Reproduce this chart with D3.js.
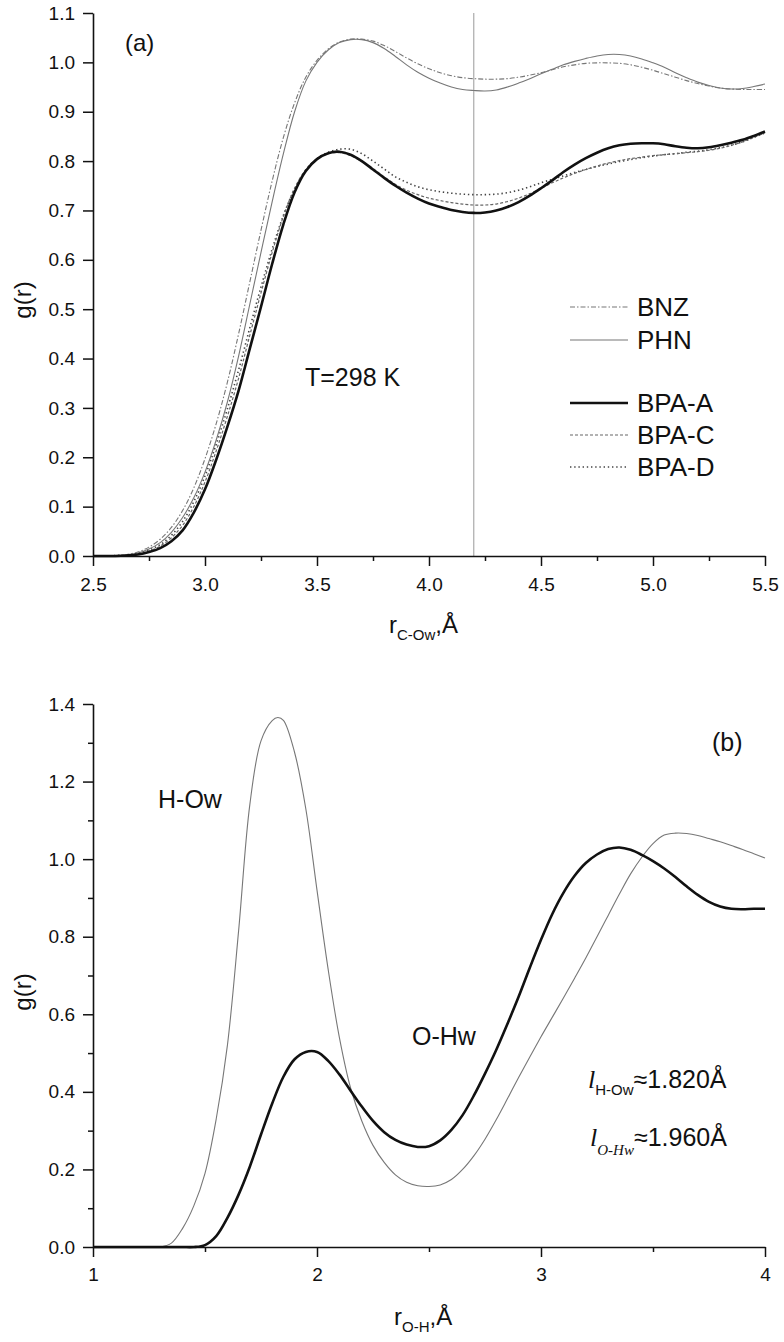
<!DOCTYPE html>
<html>
<head>
<meta charset="utf-8">
<script src="https://cdn.jsdelivr.net/npm/d3@7"></script>
<style>
  html, body { margin: 0; padding: 0; background: #fff; }
  svg { display: block; }
  text { font-family: "Liberation Sans", Arial, sans-serif; fill: #111; }
</style>
</head>
<body>
<svg id="chart" width="784" height="1342"></svg>
<script>
// ---------------- DATA: panel (a) ----------------
const rTop = [2.50,2.55,2.60,2.65,2.70,2.75,2.80,2.85,2.90,2.95,3.00,3.05,3.10,3.15,3.20,3.25,3.30,3.35,3.40,3.45,3.50,3.55,3.60,3.65,3.70,3.75,3.80,3.85,3.90,3.95,4.00,4.05,4.10,4.15,4.20,4.25,4.30,4.35,4.40,4.45,4.50,4.55,4.60,4.65,4.70,4.75,4.80,4.85,4.90,4.95,5.00,5.05,5.10,5.15,5.20,5.25,5.30,5.35,5.40,5.45,5.50];
const gBNZ = [0,0,0.001,0.003,0.008,0.018,0.034,0.058,0.092,0.138,0.197,0.268,0.352,0.450,0.555,0.660,0.760,0.848,0.918,0.970,1.004,1.027,1.041,1.047,1.047,1.043,1.034,1.022,1.009,0.997,0.987,0.979,0.973,0.969,0.967,0.966,0.966,0.967,0.970,0.974,0.979,0.985,0.991,0.995,0.998,0.999,0.999,0.998,0.995,0.990,0.984,0.977,0.970,0.963,0.957,0.952,0.948,0.946,0.945,0.945,0.945];
const gPHN = [0,0,0.000,0.002,0.006,0.014,0.027,0.048,0.078,0.118,0.170,0.235,0.312,0.405,0.510,0.615,0.718,0.815,0.900,0.962,1.000,1.025,1.040,1.046,1.046,1.040,1.028,1.012,0.995,0.980,0.968,0.958,0.950,0.945,0.943,0.942,0.944,0.950,0.958,0.967,0.977,0.986,0.995,1.002,1.008,1.013,1.016,1.016,1.013,1.007,0.999,0.990,0.979,0.969,0.960,0.953,0.948,0.946,0.947,0.951,0.956];
const gBPAA = [0,0,0.000,0.001,0.003,0.008,0.016,0.030,0.052,0.088,0.135,0.195,0.262,0.335,0.420,0.505,0.592,0.672,0.737,0.780,0.804,0.816,0.819,0.813,0.800,0.783,0.766,0.750,0.736,0.724,0.714,0.707,0.701,0.697,0.695,0.696,0.700,0.707,0.717,0.730,0.745,0.761,0.778,0.793,0.806,0.817,0.826,0.832,0.835,0.836,0.836,0.834,0.830,0.827,0.826,0.828,0.832,0.837,0.843,0.851,0.860];
const gBPAC = [0,0,0.000,0.001,0.004,0.010,0.020,0.037,0.062,0.100,0.150,0.213,0.283,0.360,0.447,0.533,0.615,0.688,0.745,0.783,0.805,0.815,0.817,0.811,0.799,0.785,0.768,0.753,0.741,0.732,0.725,0.720,0.716,0.713,0.711,0.711,0.713,0.718,0.725,0.734,0.745,0.756,0.766,0.775,0.783,0.790,0.796,0.801,0.805,0.808,0.811,0.813,0.815,0.817,0.819,0.822,0.826,0.832,0.839,0.848,0.857];
const gBPAD = [0,0,0.001,0.002,0.005,0.012,0.023,0.042,0.070,0.110,0.162,0.226,0.298,0.377,0.462,0.545,0.622,0.690,0.743,0.781,0.805,0.818,0.824,0.824,0.815,0.800,0.784,0.768,0.757,0.748,0.742,0.738,0.735,0.733,0.732,0.732,0.733,0.736,0.741,0.748,0.756,0.763,0.770,0.777,0.783,0.789,0.794,0.799,0.803,0.807,0.810,0.813,0.815,0.818,0.820,0.823,0.827,0.832,0.839,0.848,0.857];
const topSeries = ["BNZ","PHN","BPA-A","BPA-C","BPA-D"];
const topXTicks = [2.5,3.0,3.5,4.0,4.5,5.0,5.5];
const topXMinor = [2.75,3.25,3.75,4.25,4.75,5.25];
const topYTicks = [0,0.1,0.2,0.3,0.4,0.5,0.6,0.7,0.8,0.9,1.0,1.1];
const markerR = 4.2;

// ---------------- DATA: panel (b) ----------------
const rHOw = [1.00,1.05,1.10,1.15,1.20,1.25,1.30,1.35,1.40,1.45,1.50,1.55,1.60,1.65,1.70,1.75,1.80,1.825,1.85,1.90,1.95,2.00,2.05,2.10,2.15,2.20,2.25,2.30,2.35,2.40,2.45,2.50,2.55,2.60,2.65,2.70,2.75,2.80,2.85,2.90,2.95,3.00,3.05,3.10,3.15,3.20,3.25,3.30,3.35,3.40,3.45,3.50,3.55,3.60,3.65,3.70,3.75,3.80,3.85,3.90,3.95,4.00];
const gHOw = [0,0,0,0,0,0,0.000,0.010,0.048,0.106,0.190,0.330,0.520,0.815,1.140,1.305,1.357,1.365,1.358,1.275,1.130,0.920,0.715,0.540,0.410,0.325,0.262,0.218,0.186,0.167,0.158,0.156,0.160,0.174,0.200,0.235,0.278,0.328,0.382,0.437,0.490,0.542,0.592,0.642,0.693,0.745,0.800,0.855,0.910,0.962,1.005,1.040,1.062,1.067,1.066,1.061,1.053,1.045,1.035,1.025,1.014,1.003];
const rOHw = [1.00,1.05,1.10,1.15,1.20,1.25,1.30,1.35,1.40,1.45,1.50,1.55,1.60,1.65,1.70,1.75,1.80,1.85,1.90,1.95,2.00,2.05,2.10,2.15,2.20,2.25,2.30,2.35,2.40,2.45,2.50,2.55,2.60,2.65,2.70,2.75,2.80,2.85,2.90,2.95,3.00,3.05,3.10,3.15,3.20,3.25,3.30,3.35,3.40,3.45,3.50,3.55,3.60,3.65,3.70,3.75,3.80,3.85,3.90,3.95,4.00];
const gOHw = [0,0,0,0,0,0,0,0,0,0,0.005,0.028,0.075,0.135,0.207,0.290,0.370,0.439,0.484,0.503,0.503,0.480,0.445,0.403,0.362,0.325,0.296,0.276,0.264,0.258,0.260,0.275,0.302,0.340,0.390,0.447,0.508,0.575,0.645,0.720,0.792,0.858,0.913,0.957,0.990,1.012,1.026,1.030,1.024,1.011,0.995,0.976,0.954,0.930,0.908,0.890,0.878,0.872,0.871,0.872,0.872];
const botXTicks = [1,2,3,4];
const botXMinor = [1.5,2.5,3.5];
const botYTicks = [0,0.2,0.4,0.6,0.8,1.0,1.2,1.4];
const botYMinor = [0.1,0.3,0.5,0.7,0.9,1.1,1.3];

// ---------------- DRAW ----------------
const svg = d3.select("#chart");
const f1 = d3.format(".1f");

function zip(xs, ys) { return xs.map((x, i) => [x, ys[i]]); }

// ---- Panel (a) ----
const xA = d3.scaleLinear().domain([2.5, 5.5]).range([93, 765]);
const yA = d3.scaleLinear().domain([0, 1.1]).range([556, 13]);
const lineA = d3.line().x(d => xA(d[0])).y(d => yA(d[1])).curve(d3.curveCatmullRom.alpha(0.5));

const styles = {
  "BNZ":   {stroke: "#777", width: 1.1, dash: "5,2,1.5,2"},
  "PHN":   {stroke: "#777", width: 1.1, dash: null},
  "BPA-A": {stroke: "#111", width: 2.6, dash: null},
  "BPA-C": {stroke: "#666", width: 1.2, dash: "3,2"},
  "BPA-D": {stroke: "#444", width: 1.6, dash: "1.4,2.8"}
};
const topData = {"BNZ": gBNZ, "PHN": gPHN, "BPA-A": gBPAA, "BPA-C": gBPAC, "BPA-D": gBPAD};

const gA = svg.append("g");

gA.append("line")
  .attr("x1", xA(markerR)).attr("x2", xA(markerR))
  .attr("y1", yA(1.1)).attr("y2", yA(0))
  .attr("stroke", "#999").attr("stroke-width", 1);

["BNZ","PHN","BPA-D","BPA-C","BPA-A"].forEach(name => {
  const s = styles[name];
  gA.append("path")
    .attr("d", lineA(zip(rTop, topData[name])))
    .attr("fill", "none")
    .attr("stroke", s.stroke)
    .attr("stroke-width", s.width)
    .attr("stroke-dasharray", s.dash)
    .attr("stroke-linejoin", "round");
});

function styleAxis(g) {
  g.selectAll("path.domain").attr("stroke", "#111").attr("stroke-width", 1.6);
  g.selectAll(".tick line").attr("stroke", "#111").attr("stroke-width", 1.5);
  g.selectAll(".tick text").style("font-size", "19px").attr("fill", "#111")
    .style("font-family", "'Liberation Sans', Arial, sans-serif");
}

const axA = gA.append("g").attr("transform", `translate(0,${yA(0)})`)
  .call(d3.axisBottom(xA).tickValues(topXTicks).tickFormat(f1).tickSize(10).tickSizeOuter(0).tickPadding(12));
styleAxis(axA);
const axAm = gA.append("g").attr("transform", `translate(0,${yA(0)})`)
  .call(d3.axisBottom(xA).tickValues(topXMinor).tickFormat("").tickSize(5).tickSizeOuter(0));
styleAxis(axAm);
axAm.select("path.domain").remove();

const ayA = gA.append("g").attr("transform", `translate(${xA(2.5)},0)`)
  .call(d3.axisLeft(yA).tickValues(topYTicks).tickFormat(f1).tickSize(10).tickSizeOuter(0).tickPadding(8));
styleAxis(ayA);

gA.append("text").attr("transform", "translate(31,300) rotate(-90)")
  .attr("text-anchor", "middle").style("font-size", "24px").text("g(r)");

const xtA = gA.append("text").attr("x", 389).attr("y", 633).style("font-size", "24px");
xtA.append("tspan").text("r");
xtA.append("tspan").attr("dy", 7).style("font-size", "15px").text("C-Ow");
xtA.append("tspan").attr("dy", -7).text(",Å");

gA.append("text").attr("x", 125).attr("y", 51).style("font-size", "24px").text("(a)");
gA.append("text").attr("x", 305).attr("y", 386).style("font-size", "25px").text("T=298 K");

const legY = [307, 340, 403, 435, 467];
topSeries.forEach((name, i) => {
  const s = styles[name];
  gA.append("line")
    .attr("x1", 570).attr("x2", 628).attr("y1", legY[i]).attr("y2", legY[i])
    .attr("stroke", s.stroke).attr("stroke-width", s.width)
    .attr("stroke-dasharray", s.dash);
  gA.append("text").attr("x", 637).attr("y", legY[i]).attr("dy", "0.36em")
    .style("font-size", "26px").text(name);
});

// ---- Panel (b) ----
const xB = d3.scaleLinear().domain([1, 4]).range([93, 765]);
const yB = d3.scaleLinear().domain([0, 1.4]).range([1247, 704]);
const lineB = d3.line().x(d => xB(d[0])).y(d => yB(d[1])).curve(d3.curveCatmullRom.alpha(0.5));
const gB = svg.append("g");

gB.append("path").attr("d", lineB(zip(rHOw, gHOw)))
  .attr("fill", "none").attr("stroke", "#777").attr("stroke-width", 1.1);
gB.append("path").attr("d", lineB(zip(rOHw, gOHw)))
  .attr("fill", "none").attr("stroke", "#111").attr("stroke-width", 2.6);

const axB = gB.append("g").attr("transform", `translate(0,${yB(0)})`)
  .call(d3.axisBottom(xB).tickValues(botXTicks).tickFormat(d3.format("d")).tickSize(10).tickSizeOuter(0).tickPadding(11));
styleAxis(axB);
const axBm = gB.append("g").attr("transform", `translate(0,${yB(0)})`)
  .call(d3.axisBottom(xB).tickValues(botXMinor).tickFormat("").tickSize(5).tickSizeOuter(0));
styleAxis(axBm);
axBm.select("path.domain").remove();

const ayB = gB.append("g").attr("transform", `translate(${xB(1)},0)`)
  .call(d3.axisLeft(yB).tickValues(botYTicks).tickFormat(f1).tickSize(10).tickSizeOuter(0).tickPadding(8));
styleAxis(ayB);
const ayBm = gB.append("g").attr("transform", `translate(${xB(1)},0)`)
  .call(d3.axisLeft(yB).tickValues(botYMinor).tickFormat("").tickSize(5).tickSizeOuter(0));
styleAxis(ayBm);
ayBm.select("path.domain").remove();

gB.append("text").attr("transform", "translate(31,992) rotate(-90)")
  .attr("text-anchor", "middle").style("font-size", "24px").text("g(r)");

const xtB = gB.append("text").attr("x", 394).attr("y", 1325).style("font-size", "24px");
xtB.append("tspan").text("r");
xtB.append("tspan").attr("dy", 7).style("font-size", "15px").text("O-H");
xtB.append("tspan").attr("dy", -7).text(",Å");

gB.append("text").attr("x", 712).attr("y", 751).style("font-size", "25px").text("(b)");
gB.append("text").attr("x", 158).attr("y", 808).style("font-size", "25px").text("H-Ow");
gB.append("text").attr("x", 412).attr("y", 1045).style("font-size", "25px").text("O-Hw");

const l1 = gB.append("text").attr("x", 588).attr("y", 1088).style("font-size", "25px");
l1.append("tspan").style("font-family", "'Liberation Serif', 'Times New Roman', serif").style("font-style", "italic").style("font-size", "26px").text("l");
l1.append("tspan").attr("dy", 7).style("font-size", "15px").text("H-Ow");
l1.append("tspan").attr("dy", -7).text("≈1.820Å");

const l2 = gB.append("text").attr("x", 590).attr("y", 1146).style("font-size", "25px");
l2.append("tspan").style("font-family", "'Liberation Serif', 'Times New Roman', serif").style("font-style", "italic").style("font-size", "26px").text("l");
l2.append("tspan").attr("dy", 9).style("font-family", "'Liberation Serif', 'Times New Roman', serif").style("font-style", "italic").style("font-size", "15px").text("O-Hw");
l2.append("tspan").attr("dy", -9).text("≈1.960Å");
</script>
</body>
</html>
